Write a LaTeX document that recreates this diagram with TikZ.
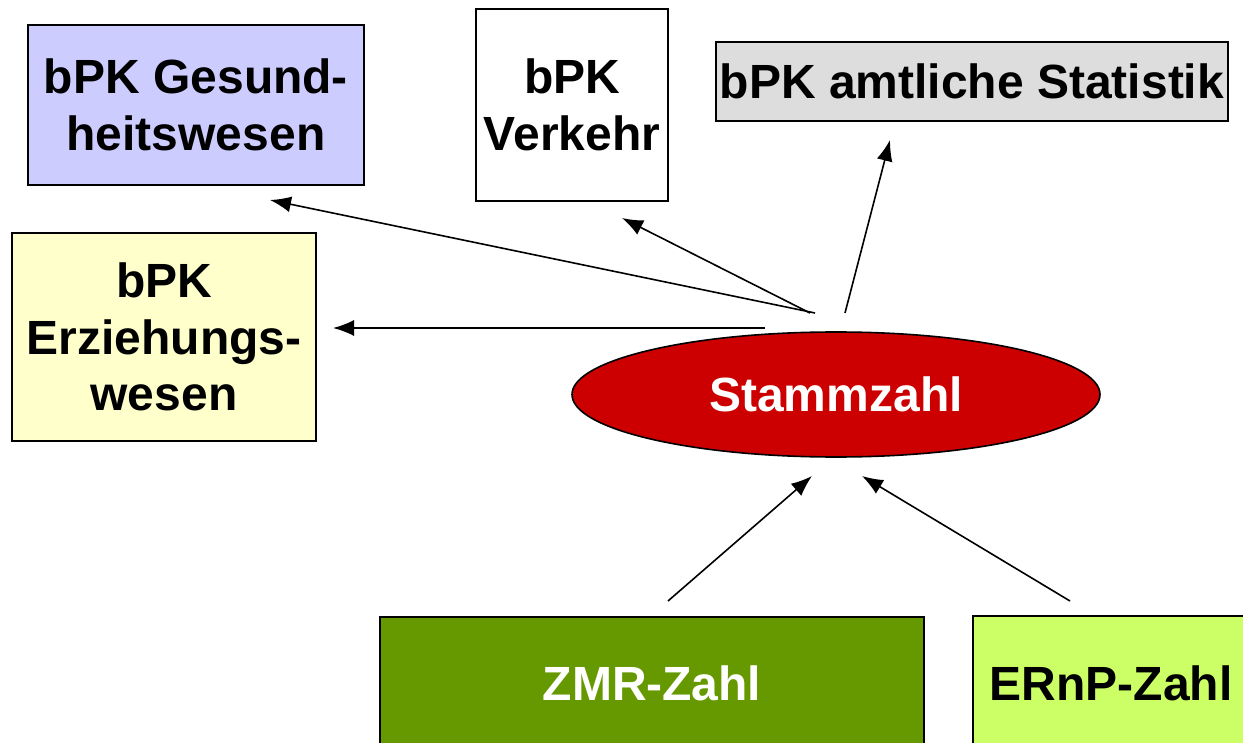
\documentclass[tikz,border=0pt]{standalone}
\usepackage{fontspec}
\setmainfont{Liberation Sans}
\usetikzlibrary{arrows.meta,shapes.geometric}
\definecolor{lavender}{HTML}{CCCCFF}
\definecolor{lightgrey}{HTML}{DDDDDD}
\definecolor{paleyellow}{HTML}{FFFFCC}
\definecolor{stammred}{HTML}{CC0000}
\definecolor{zmrgreen}{HTML}{669900}
\definecolor{ernpgreen}{HTML}{CCFF66}
\begin{document}
\begin{tikzpicture}[x=1pt, y=-1pt, line width=2pt,
  bpk box/.style={rectangle,draw,inner sep=0pt,align=center},
  arr/.style={-{Latex[length=21pt,width=16pt]}, line width=1.6pt}]
\useasboundingbox (0,0) rectangle (1243,743);
\clip (0,0) rectangle (1243,743);
\begin{scope}[every node/.style={font=\fontsize{48}{56.5}\selectfont\bfseries}]
\node[bpk box,fill=lavender,minimum width=336pt,minimum height=160pt] (gesund) at (196,105) {bPK Gesund-\\heitswesen};
\node[bpk box,fill=white,minimum width=192pt,minimum height=192pt] (verkehr) at (572,105) {bPK\\Verkehr};
\node[bpk box,fill=lightgrey,minimum width=512pt,minimum height=79pt] (statistik) at (972,81.5) {bPK amtliche Statistik};
\node[bpk box,fill=paleyellow,minimum width=304pt,minimum height=208pt] (erziehung) at (164,337) {bPK\\Erziehungs-\\wesen};
\node[ellipse,draw,fill=stammred,text=white,minimum width=528pt,minimum height=125pt,inner sep=0pt,line width=1.6pt] (stamm) at (836,394.5) {Stammzahl};
\node[bpk box,fill=zmrgreen,text=white,minimum width=544pt,minimum height=132pt] (zmr) at (652,683) {ZMR-Zahl};
\node[bpk box,fill=ernpgreen,minimum width=276pt,minimum height=134pt] (ernp) at (1111,683) {ERnP-Zahl};
\end{scope}
% Pfeilenden
\coordinate (s1) at (815,313);
\coordinate (s2) at (810,313);
\coordinate (s3) at (845,313);
\coordinate (s4) at (765,328);
\coordinate (g1) at (270,200);
\coordinate (v1) at (622,218);
\coordinate (a1) at (890,140);
\coordinate (e1) at (333,328);
\coordinate (z1) at (668,601);
\coordinate (z2) at (812,476);
\coordinate (r1) at (1070,601);
\coordinate (r2) at (862,476);
\begin{scope}[every path/.style={arr}]
\draw (s1) -- (g1);
\draw (s2) -- (v1);
\draw (s3) -- (a1);
\draw (s4) -- (e1);
\draw (z1) -- (z2);
\draw (r1) -- (r2);
\end{scope}
\end{tikzpicture}
\end{document}
